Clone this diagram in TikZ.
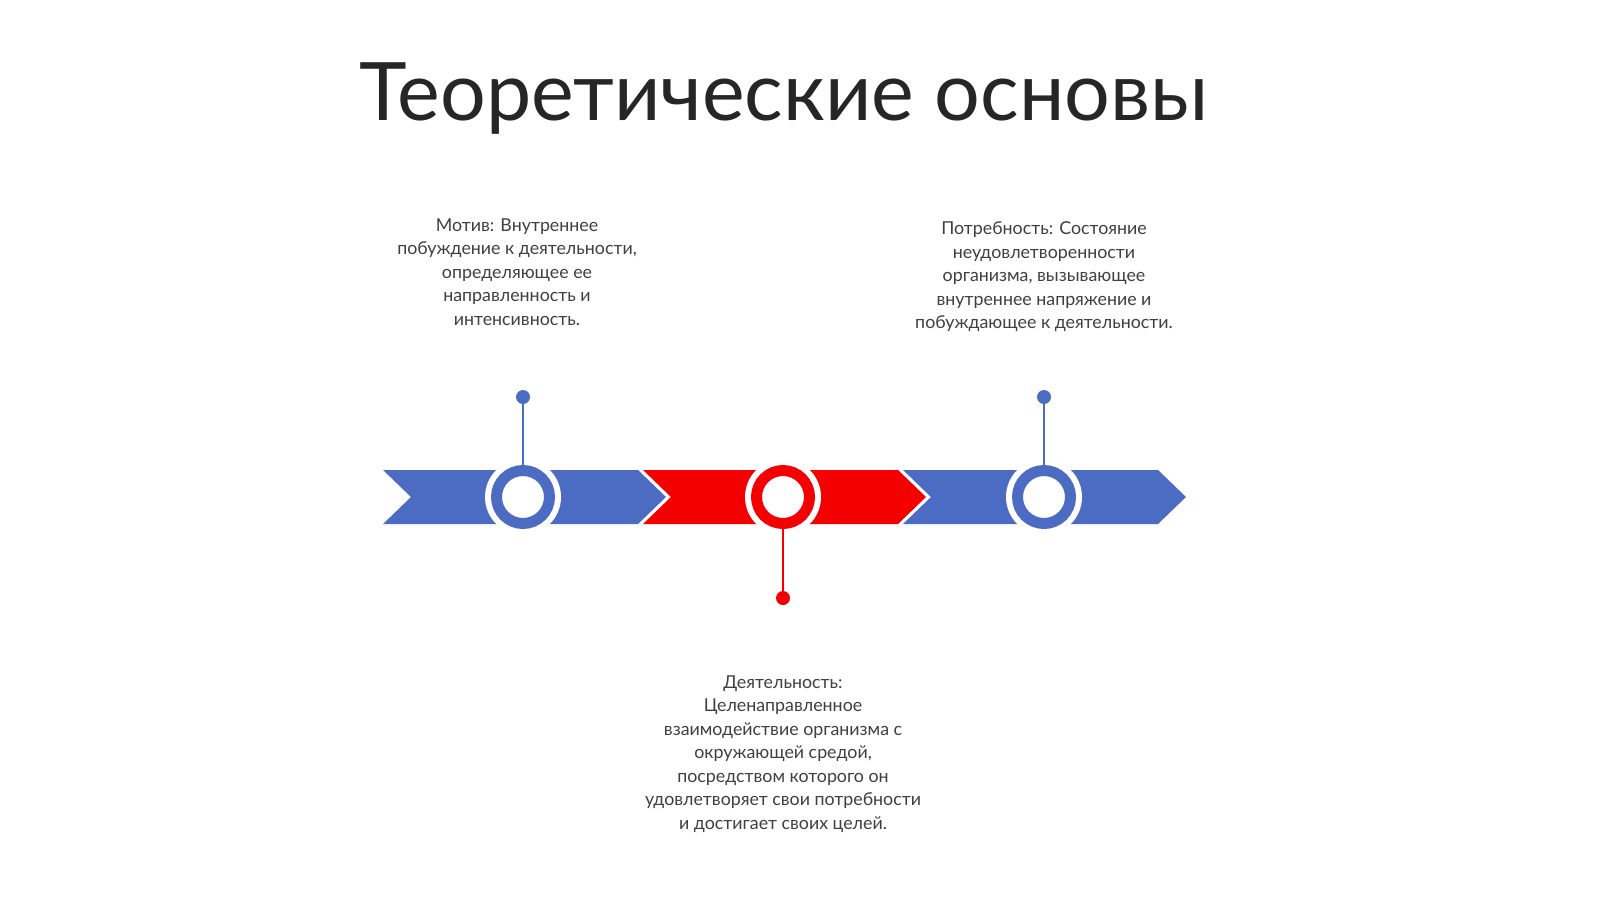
\documentclass[tikz,border=0pt]{standalone}
\usepackage{fontspec}
\setmainfont{Lato}
\definecolor{tblue}{RGB}{76,108,196}
\definecolor{tred}{RGB}{245,0,0}
\definecolor{ttext}{RGB}{64,64,64}
\definecolor{ttitle}{RGB}{38,38,38}
\begin{document}
\begin{tikzpicture}[x=1pt,y=-1pt,
  halo/.style={circle, fill=white, minimum size=76pt, inner sep=0pt},
  ring/.style={circle, fill=white, draw=#1, line width=11pt, minimum size=53pt, inner sep=0pt},
  dot/.style={circle, fill=#1, minimum size=14pt, inner sep=0pt},
  stem/.style={draw=#1, line width=2.5pt},
  body/.style={font=\fontsize{17.8}{23.5}\selectfont, text=ttext, align=center, inner sep=0pt, anchor=north},
  ]
\useasboundingbox (0,0) rectangle (1600,899);
\fill[white] (0,0) rectangle (1600,899);

\node[font=\fontsize{80.7}{96}\selectfont, text=ttitle, anchor=base, inner sep=0pt] (title) at (784,120) {Теоретические основы};

% chevron segments
\foreach \x/\c in {383/tblue, 643/tred, 903/tblue}{
  \fill[\c] (\x,470) -- (\x+255,470) -- (\x+283,497) -- (\x+255,524) -- (\x,524) -- (\x+28,497) -- cycle;
}

% halos and rings
\foreach \n/\x in {1/523, 2/783, 3/1044}{
  \node[halo] (h\n) at (\x,497) {};
}
\node[ring=tblue] (c1) at (523,497) {};
\node[ring=tred] (c2) at (783,497) {};
\node[ring=tblue] (c3) at (1044,497) {};

\node[dot=tblue] (d1) at (523,397) {};
\node[dot=tred] (d2) at (783,598) {};
\node[dot=tblue] (d3) at (1044,397) {};

\draw[stem=tblue] (d1) -- (c1);
\draw[stem=tred] (d2) -- (c2);
\draw[stem=tblue] (d3) -- (c3);

\node[body] (t1) at (517,218.5) {Мотив: Внутреннее\\побуждение к деятельности,\\определяющее ее\\направленность и\\интенсивность.};
\node[body] (t2) at (1044,221.5) {Потребность: Состояние\\неудовлетворенности\\организма, вызывающее\\внутреннее напряжение и\\побуждающее к деятельности.};
\node[body] (t3) at (783,675.5) {Деятельность:\\Целенаправленное\\взаимодействие организма с\\окружающей средой,\\посредством которого он\\удовлетворяет свои потребности\\и достигает своих целей.};
\end{tikzpicture}
\end{document}
